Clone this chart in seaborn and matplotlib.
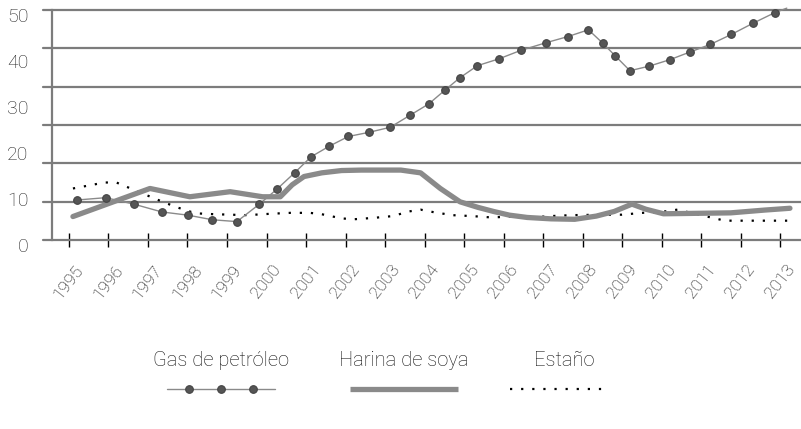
import numpy as np
import pandas as pd
import matplotlib.pyplot as plt
import matplotlib.transforms as mtransforms
from matplotlib.lines import Line2D
import seaborn as sns

# values (x in decimal years)
tick_years = list(range(1995, 2014))
y_ticks = [0, 10, 20, 30, 40, 50]

gas_x = [1995.21, 1995.93, 1996.64, 1997.35, 1998.01, 1998.63, 1999.25, 1999.82, 2000.27,
         2000.71, 2001.13, 2001.59, 2002.07, 2002.59, 2003.13, 2003.63, 2004.11, 2004.52,
         2004.90, 2005.34, 2005.89, 2006.43, 2007.08, 2007.62, 2008.15, 2008.51, 2008.82,
         2009.20, 2009.69, 2010.21, 2010.73, 2011.23, 2011.77, 2012.31, 2012.86, 2013.17]
gas_y = [8.7, 9.2, 7.8, 6.1, 5.4, 4.4, 4.0, 7.8, 11.1,
         14.6, 18.1, 20.4, 22.5, 23.4, 24.5, 27.1, 29.6, 32.6,
         35.3, 37.9, 39.4, 41.2, 42.9, 44.2, 45.7, 42.8, 40.1,
         36.8, 37.8, 39.2, 40.9, 42.5, 44.7, 47.1, 49.4, 50.4]

soy_x = [1995.1, 1997.05, 1998.06, 1999.08, 1999.9, 2000.35, 2000.65, 2000.95, 2001.4, 2001.9,
         2002.4, 2003.4, 2003.9, 2004.4, 2004.9, 2005.35, 2005.75, 2006.15, 2006.6, 2007.2,
         2007.8, 2008.35, 2008.8, 2009.25, 2009.6, 2010.05, 2010.9, 2011.75, 2012.6, 2013.25]
soy_y = [5.1, 11.2, 9.4, 10.5, 9.4, 9.4, 12.0, 13.8, 14.6, 15.1,
         15.2, 15.2, 14.6, 11.2, 8.3, 7.1, 6.2, 5.4, 4.9, 4.6,
         4.5, 5.2, 6.2, 7.8, 6.7, 5.7, 5.8, 5.9, 6.5, 6.9]

tin_x = [1995.1, 1995.9, 1996.2, 1996.7, 1997.2, 1997.7, 1998.2, 1998.7, 1999.5, 2000.1,
         2000.6, 2001.1, 2001.4, 2001.9, 2002.2, 2002.7, 2003.2, 2003.6, 2003.9, 2004.2,
         2004.7, 2005.2, 2005.7, 2006.2, 2006.7, 2007.2, 2007.7, 2008.5, 2009.0, 2009.5,
         2010.0, 2010.4, 2010.7, 2011.0, 2011.3, 2011.6, 2013.3]
tin_y = [11.2, 12.5, 12.5, 10.7, 8.9, 7.2, 5.8, 5.6, 5.4, 5.7,
         5.9, 5.9, 5.6, 4.7, 4.5, 4.8, 5.2, 6.2, 6.6, 6.1,
         5.4, 5.2, 4.9, 5.1, 4.9, 5.2, 5.4, 5.5, 5.5, 5.9,
         6.1, 6.6, 6.0, 5.4, 4.8, 4.2, 4.2]

labels = ['Gas de petróleo', 'Harina de soya', 'Estaño']

gas = pd.DataFrame({'year': gas_x, 'value': gas_y})
soy = pd.DataFrame({'year': soy_x, 'value': soy_y})
tin = pd.DataFrame({'year': tin_x, 'value': tin_y})

sns.set_style("white")
plt.rcParams['font.family'] = ['Roboto', 'DejaVu Sans']
plt.rcParams['font.weight'] = 'light'

W, H = 801, 429
fig = plt.figure(figsize=(W / 100, H / 100), dpi=100)
ax = fig.add_axes([52 / W, 189 / H, 749 / W, 230 / H])

grid_col = '#7c7c7c'
# gridlines: 7 evenly spaced lines over the 0-50 range, sticking out left of the axis
for gy in np.linspace(0, 50, 7):
    ax.axhline(gy, xmin=-9 / 749, xmax=1, color=grid_col, lw=1.6, clip_on=False, zorder=1)

line_col = '#8a8a8a'
sns.lineplot(data=tin, x='year', y='value', ax=ax, color='black', lw=1.6,
             linestyle=(0, (1, 4)), estimator=None, sort=False, zorder=3)
sns.lineplot(data=soy, x='year', y='value', ax=ax, color=line_col, lw=3.8,
             estimator=None, sort=False, zorder=4)
sns.lineplot(data=gas, x='year', y='value', ax=ax, color=line_col, lw=1.0,
             marker='o', markersize=5.5, markerfacecolor='#555555', markeredgecolor='#444444',
             markeredgewidth=0.8, markevery=list(range(len(gas_x) - 1)),
             estimator=None, sort=False, zorder=5, clip_on=False)

ax.set_xlim(1994.57, 2013.53)
ax.set_ylim(0, 50)
ax.set_xlabel('')
ax.set_ylabel('')

for s in ['top', 'right', 'bottom']:
    ax.spines[s].set_visible(False)
ax.spines['left'].set_color(grid_col)
ax.spines['left'].set_linewidth(1.6)

txt_col = '#111111'
ax.set_xticks(tick_years)
ax.set_xticklabels([str(y) for y in tick_years], rotation=52, ha='center', va='top',
                   fontsize=12.5, color=txt_col)
ax.tick_params(axis='x', direction='inout', length=10, width=1, color='black', pad=11, bottom=True)

ax.set_yticks(y_ticks)
ax.set_yticklabels([str(v) for v in y_ticks], fontsize=14, color='#222222')
ax.tick_params(axis='y', length=0, pad=17)
shift = mtransforms.ScaledTranslation(0, -5 / 100, fig.dpi_scale_trans)
for lab in ax.get_yticklabels():
    lab.set_transform(lab.get_transform() + shift)

# legend: text above each line sample
ty = 1 - 360 / H
ly = 1 - 389 / H
fig.text(221 / W, ty, labels[0], ha='center', va='center', fontsize=14.5, color=txt_col)
fig.text(404 / W, ty, labels[1], ha='center', va='center', fontsize=14.5, color=txt_col)
fig.text(564 / W, ty, labels[2], ha='center', va='center', fontsize=14.5, color=txt_col)

fig.add_artist(Line2D(np.array([167, 189, 221, 253, 275]) / W, [ly] * 5, color=line_col, lw=1.0,
                      marker='o', markersize=5.5, markerfacecolor='#555555',
                      markeredgecolor='#444444', markeredgewidth=0.8, markevery=[1, 2, 3]))
fig.add_artist(Line2D(np.array([350, 458]) / W, [ly, ly], color=line_col, lw=3.8,
                      solid_capstyle='butt'))
fig.add_artist(Line2D(np.array([510, 606]) / W, [ly, ly], color='black', lw=1.6,
                      linestyle=(0, (1, 4))))

fig.savefig('out.png', dpi=100)
plt.close(fig)
